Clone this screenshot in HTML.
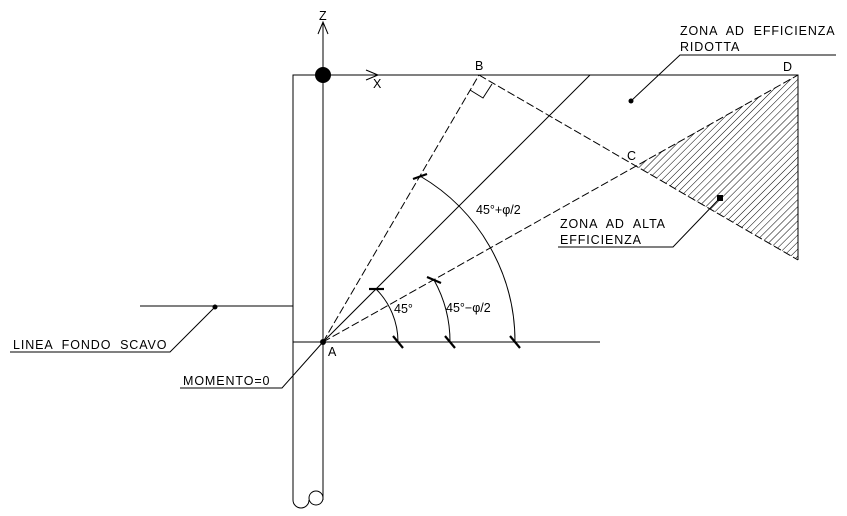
<!DOCTYPE html>
<html><head><meta charset="utf-8"><style>
html,body{margin:0;padding:0;background:#fff;}
svg{display:block;}
text{font-family:"Liberation Sans",sans-serif;font-size:12.5px;fill:#000;white-space:pre;}
</style></head><body>
<svg width="847" height="516" viewBox="0 0 847 516" xmlns="http://www.w3.org/2000/svg">
<defs>
<pattern id="h" patternUnits="userSpaceOnUse" width="5" height="5" patternTransform="rotate(45)">
<line x1="0" y1="0" x2="0" y2="5" stroke="#000" stroke-width="1"/>
</pattern>
</defs>
<polygon points="635,166 798,75 798,260" fill="url(#h)"/>
<g stroke="#000" stroke-width="1" fill="none">
<polyline points="293,500 293,75 798,75 798,260"/>
<line x1="323" y1="22" x2="323" y2="500"/>
<path d="M293,500 A8,8 0 0 0 309,500"/>
<circle cx="316" cy="498" r="7"/>
<polyline points="318,34 323,22 328,34"/>
<polyline points="366,70 378,75 366,80"/>
<line x1="293" y1="342" x2="600" y2="342"/>
<line x1="140" y1="306" x2="293" y2="306"/>
<line x1="323" y1="342" x2="590" y2="75"/>
<line x1="323" y1="342" x2="479" y2="75" stroke-dasharray="8,3"/>
<line x1="323" y1="342" x2="798" y2="75" stroke-dasharray="8,3"/>
<line x1="479" y1="75" x2="798" y2="260" stroke-dasharray="8,3"/>
<polyline points="470,90 483,98 492,84"/>
<path d="M376,289 A75,75 0 0 1 398,342"/>
<path d="M434,280 A127,127 0 0 1 450,342"/>
<path d="M420,176 A192,192 0 0 1 515,342"/>
<polyline points="215,307 170,352 10,352"/>
<polyline points="323,342 282,388 180,388"/>
<polyline points="631,101 680,55 836,55"/>
<polyline points="720,198 673,247 558,247"/>
</g>
<g stroke="#000" stroke-width="2.2">
<line x1="369" y1="289" x2="384" y2="289"/>
<line x1="427" y1="277" x2="441" y2="283"/>
<line x1="413" y1="179" x2="427" y2="174"/>
<line x1="393" y1="336" x2="403" y2="348"/>
<line x1="445" y1="336" x2="455" y2="348"/>
<line x1="510" y1="336" x2="520" y2="348"/>
</g>
<circle cx="323" cy="75" r="8" fill="#000"/>
<circle cx="323" cy="342" r="3" fill="#000"/>
<circle cx="215" cy="307" r="2.5" fill="#000"/>
<circle cx="631" cy="101" r="2.5" fill="#000"/>
<rect x="717" y="195" width="6" height="6" fill="#000"/>
<text x="319" y="20">Z</text>
<text x="373" y="88">X</text>
<text x="475" y="70">B</text>
<text x="783" y="71">D</text>
<text x="627" y="160">C</text>
<text x="328" y="356">A</text>
<text x="394" y="313">45°</text>
<text x="446" y="312">45°−φ/2</text>
<text x="476" y="214">45°+φ/2</text>
<text x="680" y="35" letter-spacing="0.9">ZONA  AD  EFFICIENZA</text>
<text x="680" y="51" letter-spacing="0.9">RIDOTTA</text>
<text x="560" y="228" letter-spacing="0.9">ZONA  AD  ALTA</text>
<text x="560" y="244" letter-spacing="0.9">EFFICIENZA</text>
<text x="13" y="349" letter-spacing="0.9">LINEA  FONDO  SCAVO</text>
<text x="183" y="385" letter-spacing="0.9">MOMENTO=0</text>
</svg>
</body></html>
